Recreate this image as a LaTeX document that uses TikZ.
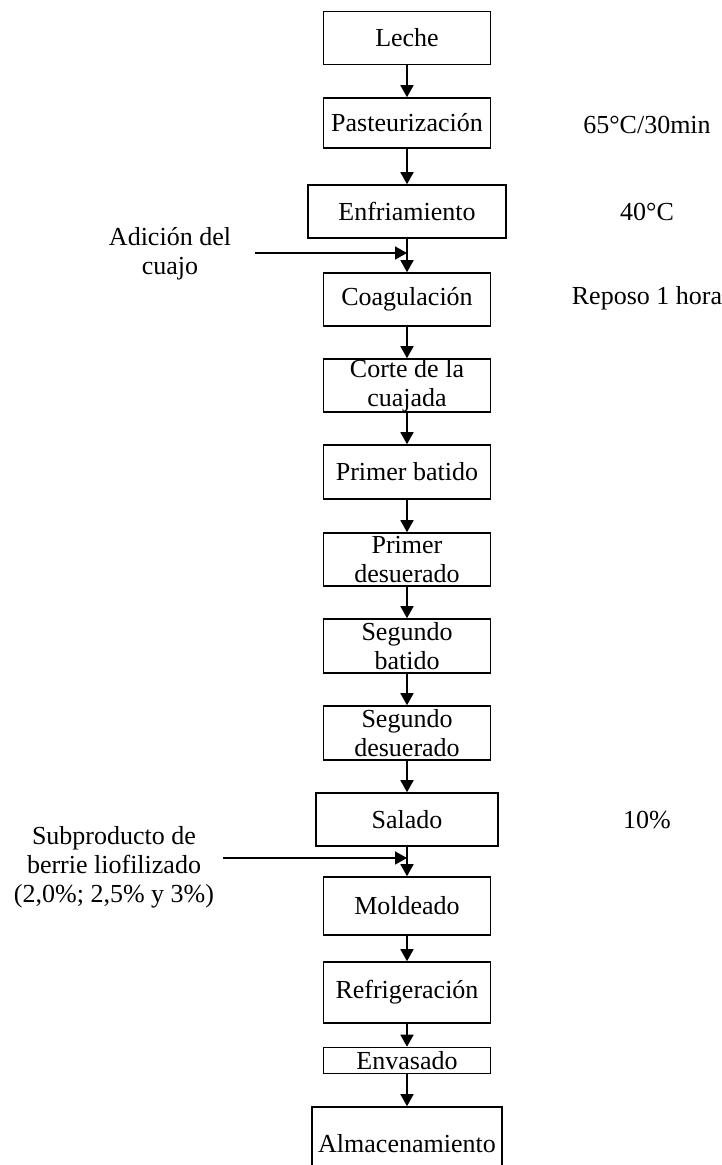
\documentclass[tikz,border=0pt]{standalone}
\usepackage{fontspec}
\setmainfont{Liberation Serif}
\usetikzlibrary{arrows.meta}
\begin{document}
\begin{tikzpicture}[x=1pt,y=-1pt,
  every node/.style={font=\fontsize{26}{29}\selectfont, inner sep=0pt, align=center},
  stepbox/.style={draw, line width=1.6pt, minimum width=167pt, minimum height=#1},
  stepbox/.default=53pt,
  arr/.style={line width=1.6pt, -{Triangle[length=12pt,width=13pt]}},
  note/.style={}]
\useasboundingbox (0,0) rectangle (722,1165);

% main process column, all centred on x = 407
\node[stepbox] (leche) at (407,38) {Leche};
\node[stepbox=50pt] (past) at (407,123) {Pasteurización};
\node[stepbox=53pt, minimum width=198pt] (enfr) at (407,211.5) {Enfriamiento};
\node[stepbox] (coag) at (407,299.5) {Coagulación};
\node[stepbox] (corte) at (407,385.5) {Corte de la\\cuajada};
\node[stepbox=54pt] (pbat) at (407,472) {Primer batido};
\node[stepbox] (pdes) at (407,559.5) {Primer\\desuerado};
\node[stepbox=54pt] (sbat) at (407,646) {Segundo\\batido};
\node[stepbox=54pt] (sdes) at (407,733) {Segundo\\desuerado};
\node[stepbox, minimum width=182pt] (sal) at (407,819.5) {Salado};
\node[stepbox=58pt] (mold) at (407,906) {Moldeado};
\node[stepbox=61pt] (refr) at (407,992.5) {Refrigeración};
\node[stepbox=26pt] (env) at (407,1060.5) {Envasado};
\node[stepbox=74pt, minimum width=190pt] (alm) at (407,1144) {Almacenamiento};

% flow arrows
\draw[arr] (leche) -- (past);
\draw[arr] (past) -- (enfr);
\draw[arr] (enfr) -- (coag);
\draw[arr] (coag) -- (corte);
\draw[arr] (corte) -- (pbat);
\draw[arr] (pbat) -- (pdes);
\draw[arr] (pdes) -- (sbat);
\draw[arr] (sbat) -- (sdes);
\draw[arr] (sdes) -- (sal);
\draw[arr] (sal) -- (mold);
\draw[arr] (mold) -- (refr);
\draw[arr] (refr) -- (env);
\draw[arr] (env) -- (alm);

% inputs from the left
\node[note] (cuajo) at (170,254) {Adición del\\cuajo};
\coordinate (cuajoin) at (255,253);
\coordinate (cuajoend) at (407,253);
\draw[arr] (cuajoin) -- (cuajoend);

\node[note] (berrie) at (114,867) {Subproducto de\\berrie liofilizado\\(2,0\%; 2,5\% y 3\%)};
\coordinate (berriein) at (223,858);
\coordinate (berrieend) at (407,858);
\draw[arr] (berriein) -- (berrieend);

% process conditions
\node[note] (tpast) at (647,125) {65°C/30min};
\node[note] (tenfr) at (647,212) {40°C};
\node[note] (tcoag) at (647,298) {Reposo 1 hora};
\node[note] (tsal) at (647,820) {10\%};
\end{tikzpicture}
\end{document}
